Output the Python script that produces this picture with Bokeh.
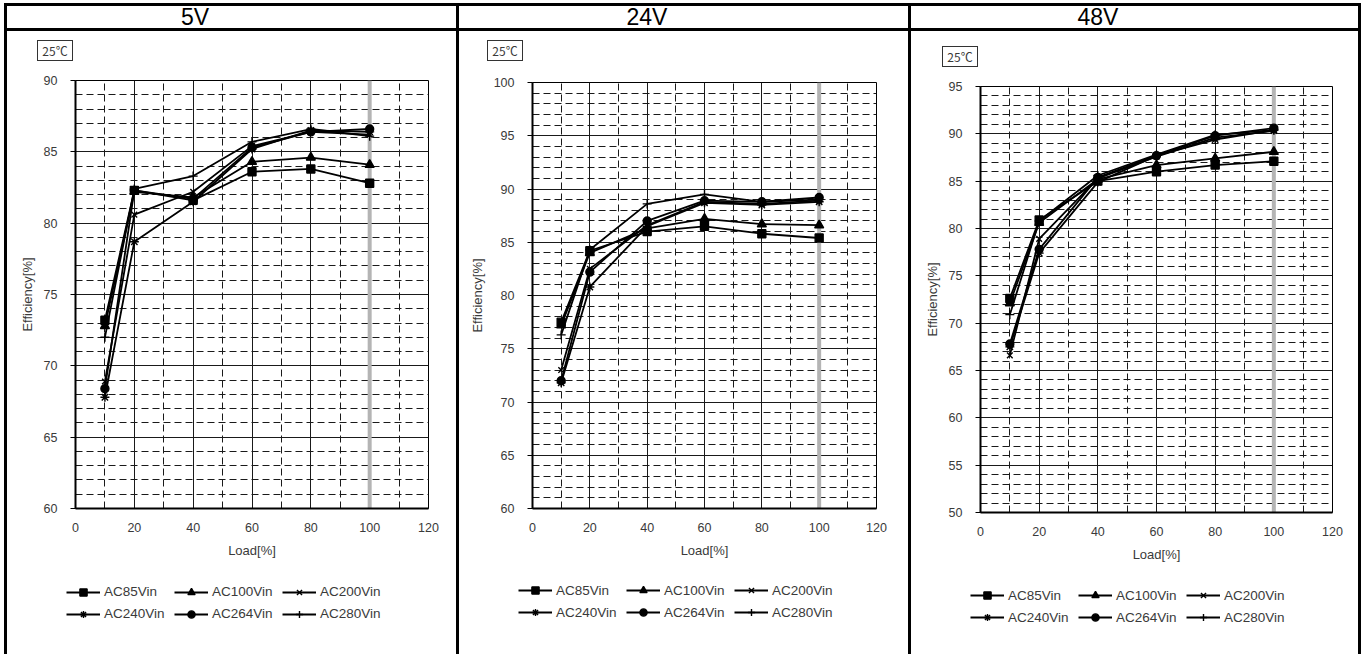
from bokeh.plotting import figure
from bokeh.models import (Range1d, SingleIntervalTicker, Span, Legend, LegendItem, Div, Spacer)
from bokeh.layouts import row, column
from bokeh.embed import file_html
from bokeh.resources import INLINE

# ---------------- data ----------------
LOAD = [10, 20, 40, 60, 80, 100]
SERIES = ["AC85Vin", "AC100Vin", "AC200Vin", "AC240Vin", "AC264Vin", "AC280Vin"]
MARKERS = ["square", "triangle", "x", "asterisk", "circle", "cross"]
PANEL_TITLES = ["5V", "24V", "48V"]
TEMP_LABEL = "25\u2103"
X_LABEL = "Load[%]"
Y_LABEL = "Efficiency[%]"
RATED_LOAD = 100

EFF_5V_AC85 = [73.2, 82.3, 81.6, 83.6, 83.8, 82.8]
EFF_5V_AC100 = [72.8, 82.2, 81.8, 84.3, 84.6, 84.1]
EFF_5V_AC200 = [68.9, 80.6, 82.2, 85.4, 86.4, 86.2]
EFF_5V_AC240 = [67.8, 78.7, 81.5, 85.2, 86.5, 86.4]
EFF_5V_AC264 = [68.4, 82.3, 81.7, 85.3, 86.4, 86.6]
EFF_5V_AC280 = [72.0, 82.4, 83.3, 85.7, 86.6, 86.1]

EFF_24V_AC85 = [77.5, 84.2, 86.0, 86.5, 85.8, 85.4]
EFF_24V_AC100 = [77.2, 84.0, 86.3, 87.2, 86.7, 86.6]
EFF_24V_AC200 = [73.0, 82.5, 86.6, 88.8, 88.6, 88.9]
EFF_24V_AC240 = [71.8, 80.8, 86.5, 88.7, 88.5, 88.8]
EFF_24V_AC264 = [72.0, 82.2, 87.0, 88.9, 88.8, 89.2]
EFF_24V_AC280 = [76.3, 84.3, 88.6, 89.5, 88.8, 89.0]

EFF_48V_AC85 = [72.6, 80.9, 85.0, 86.0, 86.7, 87.1]
EFF_48V_AC100 = [72.1, 80.6, 85.2, 86.7, 87.4, 88.1]
EFF_48V_AC200 = [66.6, 78.9, 85.3, 87.6, 89.6, 90.3]
EFF_48V_AC240 = [67.5, 77.4, 84.9, 87.7, 89.4, 90.4]
EFF_48V_AC264 = [67.8, 77.8, 85.4, 87.7, 89.8, 90.6]
EFF_48V_AC280 = [70.9, 80.8, 85.6, 87.8, 89.9, 90.4]

X_RANGE = (0, 120)
Y_RANGE_5V = (60, 90)
Y_RANGE_24V = (60, 100)
Y_RANGE_48V = (50, 95)

DATA = [
    [EFF_5V_AC85, EFF_5V_AC100, EFF_5V_AC200, EFF_5V_AC240, EFF_5V_AC264, EFF_5V_AC280],
    [EFF_24V_AC85, EFF_24V_AC100, EFF_24V_AC200, EFF_24V_AC240, EFF_24V_AC264, EFF_24V_AC280],
    [EFF_48V_AC85, EFF_48V_AC100, EFF_48V_AC200, EFF_48V_AC240, EFF_48V_AC264, EFF_48V_AC280],
]
Y_RANGES = [Y_RANGE_5V, Y_RANGE_24V, Y_RANGE_48V]

# ---------------- layout / style ----------------
TOTAL_H = 654
HEAD_TOP = 3      # white strip above the table
BAR = 3           # table border thickness
HEAD_H = 22       # header cell inner height
GEOM = [
    dict(w=449, left=68, right=28, top=10, frame_h=428, bottom=56, temp_h=39,
         bx=30, by=9, hx=188, lx=59, ly=31.5),
    dict(w=449, left=73, right=32, top=12, frame_h=426, bottom=56, temp_h=39,
         bx=28, by=9, hx=188, lx=59, ly=32.8),
    dict(w=447, left=69, right=26, top=10, frame_h=426, bottom=56, temp_h=45,
         bx=31, by=15, hx=187, lx=59, ly=27.8),
]
MARKER_SIZE = {"square": 8, "triangle": 9, "x": 8, "asterisk": 9, "circle": 8, "cross": 9}
FONT = "Liberation Sans"
TXT = "#3a3a3a"


def vbar():
    return Div(text="", width=BAR, height=TOTAL_H - HEAD_TOP, margin=(HEAD_TOP, 0, 0, 0),
               styles={"background-color": "black"})


def hbar(w):
    return Div(text="", width=w, height=BAR, margin=0, styles={"background-color": "black"})


def add_series(p, vals_list):
    items = []
    for name, mk, vals in zip(SERIES, MARKERS, vals_list):
        ln = p.line(LOAD, vals, line_color="black", line_width=1.8)
        sc = p.scatter(LOAD, vals, marker=mk, size=MARKER_SIZE[mk],
                       fill_color="black", line_color="black", line_width=1.4)
        items.append(LegendItem(label=name, renderers=[ln, sc]))
    return items


def make_chart(i):
    g = GEOM[i]
    ylo, yhi = Y_RANGES[i]
    h = g["top"] + g["frame_h"] + g["bottom"]
    p = figure(width=g["w"], height=h, output_backend="svg", toolbar_location=None,
               x_range=Range1d(*X_RANGE), y_range=Range1d(ylo, yhi),
               min_border_left=g["left"], min_border_right=g["right"],
               min_border_top=g["top"], min_border_bottom=g["bottom"],
               background_fill_color="white", border_fill_color="white")
    p.outline_line_color = "black"
    p.outline_line_width = 1

    p.xaxis.ticker = SingleIntervalTicker(interval=20, num_minor_ticks=2)
    p.yaxis.ticker = SingleIntervalTicker(interval=5, num_minor_ticks=5)
    for ax in (p.xaxis[0], p.yaxis[0]):
        ax.axis_line_color = "black"
        ax.axis_line_width = 2
        ax.minor_tick_line_color = None
        ax.major_label_text_font = FONT
        ax.major_label_text_font_size = "12.5px"
        ax.major_label_text_color = TXT
        ax.axis_label_text_font = FONT
        ax.axis_label_text_font_size = "13px"
        ax.axis_label_text_font_style = "normal"
        ax.axis_label_text_color = TXT
    p.xaxis.major_tick_out = 0
    p.xaxis.major_tick_in = 0
    p.xaxis.major_label_standoff = 10
    p.xaxis.axis_label = X_LABEL
    p.xaxis.axis_label_standoff = 8
    p.yaxis.major_tick_out = 5
    p.yaxis.major_tick_in = 0
    p.yaxis.major_tick_line_color = "black"
    p.yaxis.major_label_standoff = 13
    p.yaxis.axis_label = Y_LABEL
    p.yaxis.axis_label_standoff = 6

    for gr in (p.xgrid[0], p.ygrid[0]):
        gr.grid_line_color = "#1a1a1a"
        gr.grid_line_width = 1
        gr.minor_grid_line_color = "#1a1a1a"
        gr.minor_grid_line_width = 1
        gr.minor_grid_line_dash = "7 4"

    p.add_layout(Span(location=RATED_LOAD, dimension="height", line_color="#b4b4b4",
                      line_width=4, level="underlay"))
    add_series(p, DATA[i])
    return p


def make_legend(i, height):
    """Legend keys in their own strip below the chart; the series drawn here fall
    outside this strip's view range, so only the legend keys are visible."""
    g = GEOM[i]
    p = figure(width=g["w"], height=height, output_backend="svg", toolbar_location=None,
               x_axis_type=None, y_axis_type=None,
               x_range=Range1d(-2, -1), y_range=Range1d(-2, -1),
               min_border=0, min_border_left=0, min_border_right=0,
               min_border_top=0, min_border_bottom=0,
               background_fill_color="white", border_fill_color="white")
    p.outline_line_color = None
    p.xgrid.visible = False
    p.ygrid.visible = False
    items = add_series(p, DATA[i])
    leg = Legend(items=items, location=(g["lx"], g["ly"]), orientation="horizontal", ncols=3,
                 glyph_width=34, glyph_height=18, label_standoff=4, label_width=66,
                 label_height=18, spacing=4, padding=0, margin=0,
                 label_text_font=FONT, label_text_font_size="13.5px", label_text_color=TXT,
                 border_line_color=None, background_fill_alpha=0)
    p.add_layout(leg, "center")
    return p


def make_panel(i):
    g = GEOM[i]
    w = g["w"]
    header = Div(text=(f'<div style="width:{2 * g["hx"]}px;text-align:center;'
                       f'font-family:\'{FONT}\';font-size:23px;line-height:{HEAD_H}px;'
                       f'color:black;">{PANEL_TITLES[i]}</div>'),
                 width=w, height=HEAD_H, margin=0, styles={"background-color": "white"})
    temp = Div(text=(f'<div style="padding-left:{g["bx"]}px;padding-top:{g["by"]}px;">'
                     f'<div style="display:inline-block;box-sizing:border-box;width:36px;'
                     f'height:21px;border:1px solid #333;text-align:center;'
                     f'font-family:\'Noto Sans CJK JP\';font-size:12px;line-height:19px;'
                     f'color:{TXT};">{TEMP_LABEL}</div></div>'),
               width=w, height=g["temp_h"], margin=0, styles={"background-color": "white"})
    chart = make_chart(i)
    used = HEAD_TOP + 2 * BAR + HEAD_H + g["temp_h"] + chart.height
    legend = make_legend(i, TOTAL_H - used)
    return column(Spacer(width=w, height=HEAD_TOP), hbar(w), header, hbar(w), temp,
                  chart, row(legend, spacing=0), spacing=0)


layout = row(Spacer(width=4, height=TOTAL_H), vbar(), make_panel(0), vbar(), make_panel(1),
             vbar(), make_panel(2), vbar(), spacing=0)
open("out.html", "w").write(file_html(layout, INLINE))
